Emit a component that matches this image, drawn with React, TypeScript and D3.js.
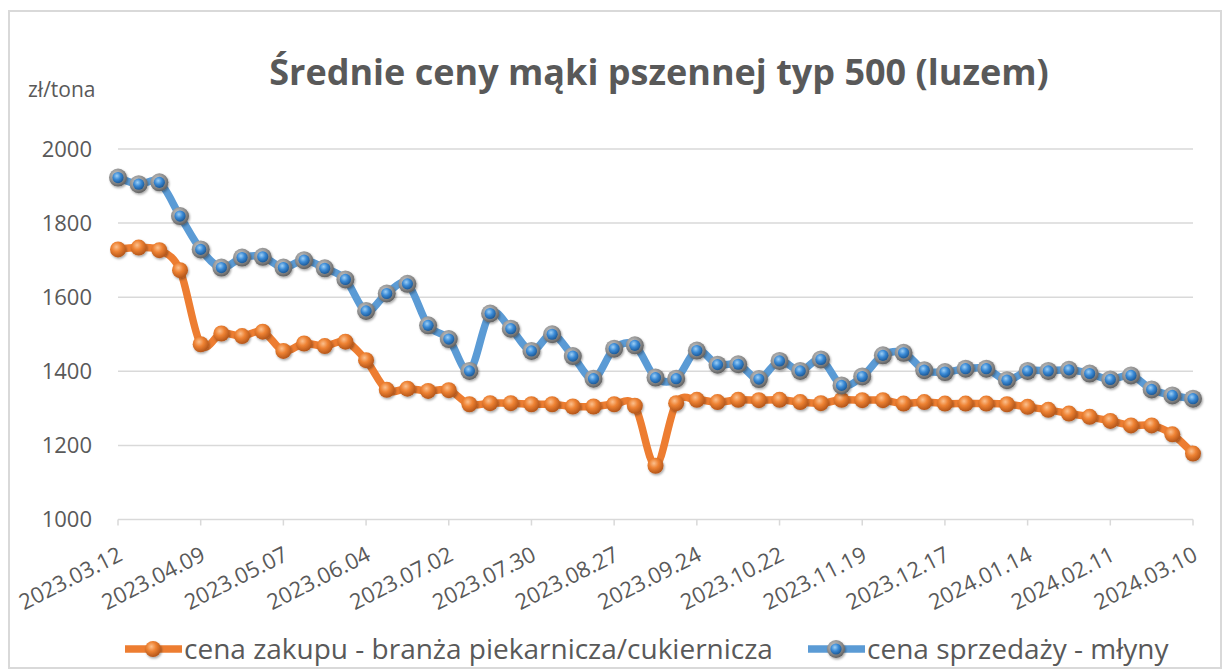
import React from "react";
import * as d3 from "d3";

const dates = [
  "2023.03.12", "2023.03.19", "2023.03.26", "2023.04.02", "2023.04.09", "2023.04.16", "2023.04.23", "2023.04.30",
  "2023.05.07", "2023.05.14", "2023.05.21", "2023.05.28", "2023.06.04", "2023.06.11", "2023.06.18", "2023.06.25",
  "2023.07.02", "2023.07.09", "2023.07.16", "2023.07.23", "2023.07.30", "2023.08.06", "2023.08.13", "2023.08.20",
  "2023.08.27", "2023.09.03", "2023.09.10", "2023.09.17", "2023.09.24", "2023.10.01", "2023.10.08", "2023.10.15",
  "2023.10.22", "2023.10.29", "2023.11.05", "2023.11.12", "2023.11.19", "2023.11.26", "2023.12.03", "2023.12.10",
  "2023.12.17", "2023.12.24", "2023.12.31", "2024.01.07", "2024.01.14", "2024.01.21", "2024.01.28", "2024.02.04",
  "2024.02.11", "2024.02.18", "2024.02.25", "2024.03.03", "2024.03.10",
];

// cena zakupu - branża piekarnicza/cukiernicza
const zakup = [
  1729, 1734, 1727, 1673, 1473, 1502, 1495, 1507, 1455, 1475, 1468, 1480, 1430, 1350, 1353, 1347,
  1349, 1311, 1314, 1314, 1311, 1311, 1305, 1305, 1311, 1307, 1145, 1314, 1323, 1317, 1323, 1322,
  1323, 1317, 1314, 1323, 1322, 1322, 1313, 1317, 1313, 1313, 1313, 1311, 1304, 1296, 1286, 1277,
  1266, 1254, 1254, 1230, 1178,
];

// cena sprzedaży - młyny
const sprzedaz = [
  1923, 1905, 1910, 1819, 1729, 1680, 1707, 1709, 1680, 1700, 1678, 1648, 1563, 1610, 1636, 1524,
  1487, 1401, 1556, 1515, 1455, 1500, 1441, 1380, 1461, 1470, 1383, 1380, 1456, 1418, 1419, 1379,
  1428, 1401, 1432, 1362, 1386, 1443, 1450, 1403, 1398, 1407, 1407, 1376, 1401, 1401, 1404, 1394,
  1378, 1389, 1351, 1335, 1326,
];

const tickDates = [
  "2023.03.12", "2023.04.09", "2023.05.07", "2023.06.04", "2023.07.02", "2023.07.30", "2023.08.27",
  "2023.09.24", "2023.10.22", "2023.11.19", "2023.12.17", "2024.01.14", "2024.02.11", "2024.03.10",
];
const yTicks = [1000, 1200, 1400, 1600, 1800, 2000];

const title = "Średnie ceny mąki pszennej typ 500 (luzem)";
const seriesNames = ["cena zakupu - branża piekarnicza/cukiernicza", "cena sprzedaży - młyny"];

const W = 1226;
const H = 670;
const textColor = "#595959";
const gridColor = "#d9d9d9";
const orange = "#ED7D31";
const blue = "#5B9BD5";
const font = "'Open Sans', sans-serif";

const App = () => {
  const x = d3.scalePoint<string>().domain(dates).range([118, 1193]);
  const y = d3.scaleLinear().domain([1000, 2000]).range([519.5, 149]);

  const line = d3
    .line<number>()
    .x((_, i) => x(dates[i]) as number)
    .y((d) => y(d))
    .curve(d3.curveCardinal.tension(0));

  const Marker = ({ cx, cy, kind }: { cx: number; cy: number; kind: string }) =>
    kind === "orange" ? (
      <circle cx={cx} cy={cy} r={8} fill="url(#gOrange)" filter="url(#shadow)" />
    ) : (
      <g filter="url(#shadow)">
        <circle cx={cx} cy={cy} r={9} fill="url(#gRing)" />
        <circle cx={cx} cy={cy} r={5.6} fill="url(#gBlue)" />
      </g>
    );

  return (
    <svg width={W} height={H} style={{ position: "absolute", left: 0, top: 0, background: "#fff" }} fontFamily={font}>
      <defs>
        <radialGradient id="gOrange" cx="40%" cy="35%" r="65%">
          <stop offset="0%" stopColor="#fbc08e" />
          <stop offset="45%" stopColor="#ee8233" />
          <stop offset="100%" stopColor="#b4561a" />
        </radialGradient>
        <radialGradient id="gBlue" cx="40%" cy="35%" r="65%">
          <stop offset="0%" stopColor="#9fd0f5" />
          <stop offset="50%" stopColor="#3a8ad6" />
          <stop offset="100%" stopColor="#1d5a98" />
        </radialGradient>
        <radialGradient id="gRing" cx="40%" cy="35%" r="70%">
          <stop offset="0%" stopColor="#c8c8c8" />
          <stop offset="60%" stopColor="#8c8c8c" />
          <stop offset="100%" stopColor="#5a5a5a" />
        </radialGradient>
        <filter id="shadow" x="-50%" y="-50%" width="200%" height="200%">
          <feDropShadow dx="1" dy="1.5" stdDeviation="1.2" floodColor="#000" floodOpacity="0.35" />
        </filter>
      </defs>

      <rect x={9} y={11} width={1212} height={657} fill="#fff" stroke={gridColor} strokeWidth={2} />

      <text x={659} y={85} textAnchor="middle" fontSize={36} fontWeight="bold" fill={textColor}>
        {title}
      </text>
      <text x={28} y={97} fontSize={21} fill={textColor}>
        zł/tona
      </text>

      {yTicks.map((t) => (
        <g key={t}>
          <line x1={118} x2={1193} y1={y(t)} y2={y(t)} stroke={gridColor} strokeWidth={1.5} />
          <text x={92} y={y(t)} dy="0.35em" textAnchor="end" fontSize={22} fill={textColor}>
            {t}
          </text>
        </g>
      ))}

      {tickDates.map((d) => (
        <g key={d} transform={`translate(${x(d)},${y(1000)})`}>
          <line y1={0} y2={6} stroke={gridColor} strokeWidth={1.5} />
          <text transform="translate(6,40) rotate(-27)" textAnchor="end" fontSize={22} fill={textColor}>
            {d}
          </text>
        </g>
      ))}

      <path d={line(zakup) ?? ""} fill="none" stroke={orange} strokeWidth={7.5} strokeLinejoin="round" strokeLinecap="round" />
      <path d={line(sprzedaz) ?? ""} fill="none" stroke={blue} strokeWidth={7.5} strokeLinejoin="round" strokeLinecap="round" />
      {zakup.map((v, i) => (
        <Marker key={"o" + i} cx={x(dates[i]) as number} cy={y(v)} kind="orange" />
      ))}
      {sprzedaz.map((v, i) => (
        <Marker key={"b" + i} cx={x(dates[i]) as number} cy={y(v)} kind="blue" />
      ))}

      <g>
        <line x1={125} x2={182} y1={649} y2={649} stroke={orange} strokeWidth={7.5} />
        <Marker cx={153} cy={649} kind="orange" />
        <text x={184} y={649} dy="0.35em" fontSize={28} fill={textColor}>
          {seriesNames[0]}
        </text>
        <line x1={808} x2={865} y1={649} y2={649} stroke={blue} strokeWidth={7.5} />
        <Marker cx={836} cy={649} kind="blue" />
        <text x={867} y={649} dy="0.35em" fontSize={28} fill={textColor}>
          {seriesNames[1]}
        </text>
      </g>
    </svg>
  );
};

export default App;
